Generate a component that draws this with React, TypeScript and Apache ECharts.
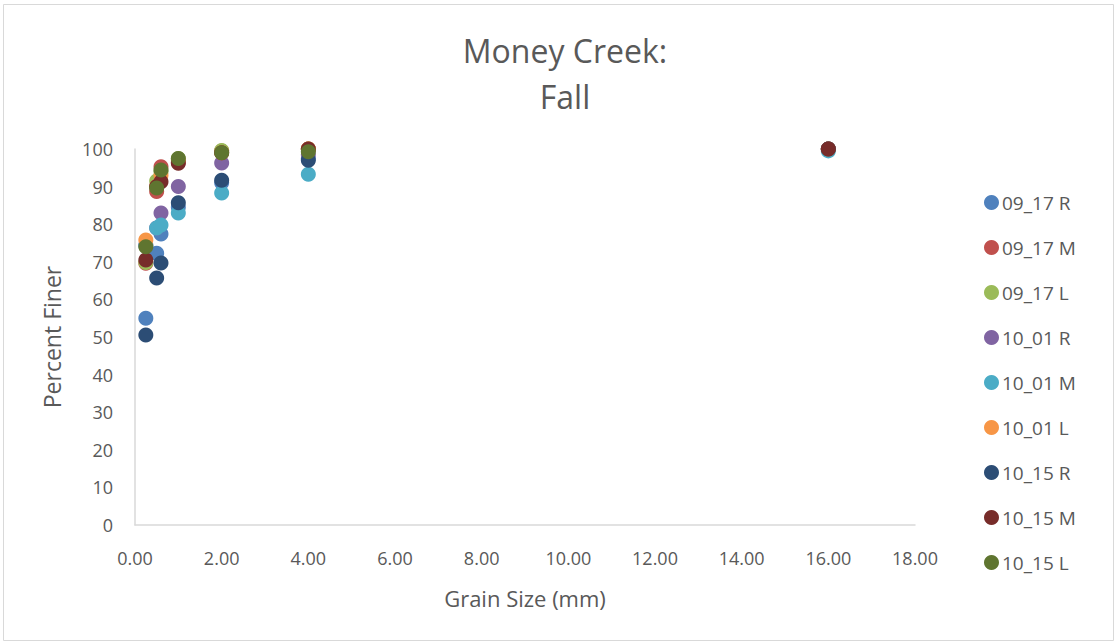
import React, { useEffect, useRef } from "react";
import * as echarts from "echarts";

const titleText = "Money Creek:\nFall";
const xAxisName = "Grain Size (mm)";
const yAxisName = "Percent Finer";

const sieveSizes = [0.25, 0.5, 0.6, 1, 2, 4, 16];

const seriesNames = ["09_17 R", "09_17 M", "09_17 L", "10_01 R", "10_01 M", "10_01 L", "10_15 R", "10_15 M", "10_15 L"];
const seriesColors = ["#4F81BD", "#C0504D", "#9BBB59", "#8064A2", "#4BACC6", "#F79646", "#2C4D75", "#772C2A", "#5F7530"];

const s0917R = [55, 72.3, 77.4, 84.5, 91, 97.5, 100];
const s0917M = [69.6, 88.7, 95.3, 96.5, 99.5, 100, 100];
const s0917L = [69.8, 91.5, 94, 97.5, 99.6, 100, 100];
const s1001R = [74.5, 79, 83, 90, 96.3, 98.5, 100];
const s1001M = [74.3, 79, 79.8, 83, 88.3, 93.3, 99.5];
const s1001L = [75.8, 90, 93, 97, 99, 100, 100];
const s1015R = [50.5, 65.7, 69.7, 85.7, 91.7, 97, 100];
const s1015M = [70.5, 90, 91.3, 96.2, 99, 100, 100];
const s1015L = [74, 89.6, 94.4, 97.5, 99, 99.3, null];

const seriesValues = [s0917R, s0917M, s0917L, s1001R, s1001M, s1001L, s1015R, s1015M, s1015L];

const xTicks = { min: 0, max: 18, interval: 2 };
const yTicks = { min: 0, max: 100, interval: 10 };

export default function App() {
  const ref = useRef<HTMLDivElement>(null);
  useEffect(() => {
    document.body.style.margin = "0";
    const chart = echarts.init(ref.current!, null, { renderer: "svg" });
    const font = "'Open Sans', 'Liberation Sans', sans-serif";
    const labelColor = "#595959";
    chart.setOption({
      animation: false,
      backgroundColor: "#ffffff",
      title: {
        text: titleText,
        left: 560,
        textAlign: "center",
        top: 22,
        textStyle: { fontFamily: font, fontSize: 32, fontWeight: "normal", color: labelColor, lineHeight: 46 },
      },
      graphic: [
        {
          type: "rect",
          shape: { x: 3.5, y: 4.5, width: 1110, height: 636 },
          style: { fill: "none", stroke: "#d9d9d9", lineWidth: 1 },
          silent: true,
        },
      ],
      legend: {
        orient: "vertical",
        left: 979,
        top: 188,
        itemGap: 26,
        itemWidth: 15,
        itemHeight: 15,
        icon: "circle",
        textStyle: { fontFamily: font, fontSize: 19, color: labelColor, padding: [0, 0, 0, -2] },
        data: seriesNames,
      },
      grid: { left: 135, right: 203, top: 149, bottom: 119, containLabel: false },
      xAxis: {
        type: "value",
        min: xTicks.min,
        max: xTicks.max,
        interval: xTicks.interval,
        name: xAxisName,
        nameLocation: "middle",
        nameGap: 62,
        nameTextStyle: { fontFamily: font, fontSize: 22, color: labelColor },
        axisLine: { show: true, lineStyle: { color: "#d9d9d9", width: 1.5 } },
        axisTick: { show: false },
        splitLine: { show: false },
        axisLabel: {
          fontFamily: font,
          fontSize: 18,
          color: labelColor,
          margin: 24,
          formatter: (v: number) => v.toFixed(2),
        },
      },
      yAxis: {
        type: "value",
        min: yTicks.min,
        max: yTicks.max,
        interval: yTicks.interval,
        name: yAxisName,
        nameLocation: "middle",
        nameGap: 72,
        nameRotate: 90,
        nameTextStyle: { fontFamily: font, fontSize: 23, color: labelColor },
        axisLine: { show: true, lineStyle: { color: "#d9d9d9", width: 1.5 } },
        axisTick: { show: false },
        splitLine: { show: false },
        axisLabel: { fontFamily: font, fontSize: 18, color: labelColor, margin: 22 },
      },
      series: seriesNames.map((name, i) => ({
        name,
        type: "scatter",
        symbol: "circle",
        symbolSize: 15,
        itemStyle: { color: seriesColors[i], opacity: 1 },
        data: sieveSizes
          .map((x, j) => [x, seriesValues[i][j]])
          .filter((p) => p[1] !== null && p[1] !== undefined),
      })),
    });
    return () => chart.dispose();
  }, []);
  return <div ref={ref} style={{ width: 1118, height: 644 }} />;
}
